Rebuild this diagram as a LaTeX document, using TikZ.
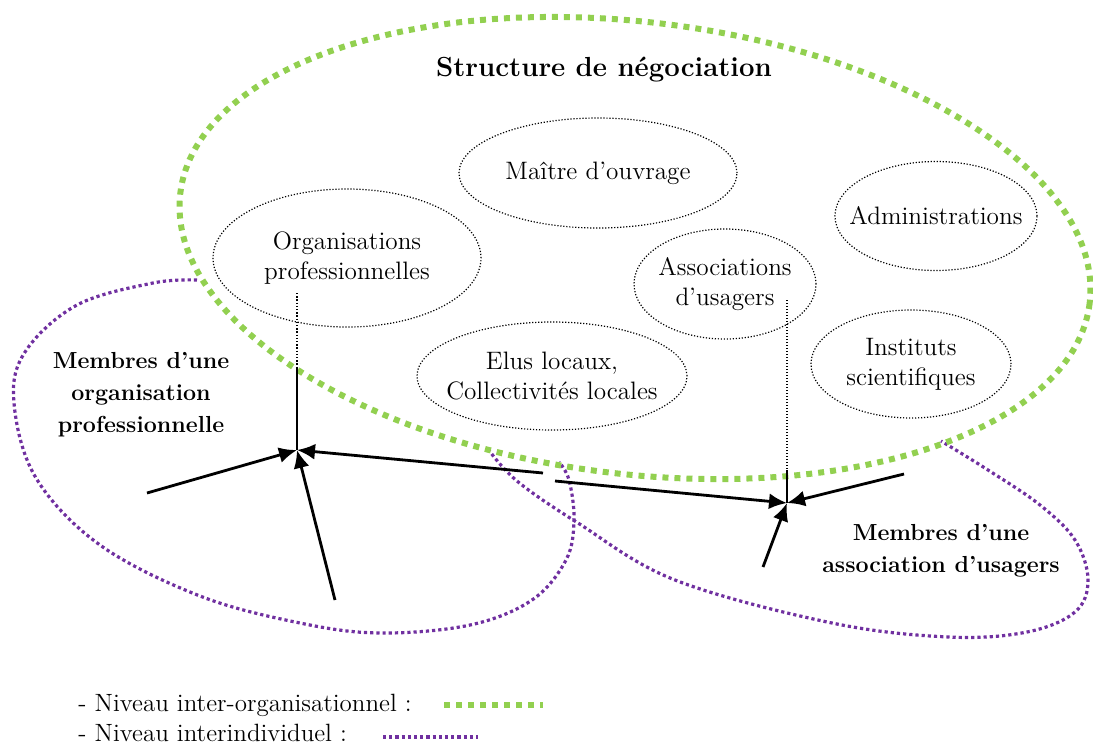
\documentclass[tikz,border=0pt]{standalone}
\usetikzlibrary{arrows.meta,shapes.geometric}
\definecolor{interorg}{HTML}{92D050}
\definecolor{interind}{HTML}{7030A0}

\begin{document}
\begin{tikzpicture}[x=0.5pt, y=-0.5pt,
	inter/.style={interorg, line width=3pt, dash pattern=on 3pt off 3pt},
	indiv/.style={interind, line width=1.6pt, dash pattern=on 1.6pt off 1.5pt},
	acteur/.style={draw, ellipse, line width=0.6pt, dash pattern=on 0.6pt off 0.9pt, inner ysep=0pt, inner xsep=-8pt, align=center, font=\fontsize{12.6}{15}\selectfont},
	membres/.style={align=center, font=\fontsize{11.6}{16}\selectfont\bfseries},
	legende/.style={anchor=west, inner sep=0pt, font=\fontsize{12.5}{14}\selectfont},
	fleche/.style={line width=1.4pt, -{Latex[length=9pt, width=8pt]}}]
	\useasboundingbox (0,0) rectangle (1093,746);

	% niveau interindividuel
	\draw[indiv] plot[smooth, tension=0.6] coordinates {(197,280) (153,283) (77,305) (25,352) (14,403) (36,478) (100,545) (200,596) (300,623) (380,633) (470,625) (532,600) (566,560) (574,520) (569,480) (559,462)};
	\draw[indiv] plot[smooth, tension=0.6] coordinates {(488,449) (517,481) (578,523) (675,580) (832,623) (949,637) (1027,632) (1075,612) (1088,580) (1075,540) (1040,505) (988,470) (941,441)};

	% niveau inter-organisationnel
	\draw[inter, rotate around={-6.9:(635,248)}] (635,248) ellipse [x radius=458, y radius=226];
	\node (titre) at (604,70) {\fontsize{13.8}{18}\selectfont\bfseries Structure de négociation};

	\node (maitre) [acteur, minimum width=139pt, minimum height=55pt] at (598,173) {Maître d’ouvrage};
	\node (orga) [acteur, minimum width=134pt, minimum height=69pt] at (347,258) {Organisations\\professionnelles};
	\node (admin) [acteur, minimum width=101pt, minimum height=54.5pt] at (936,216) {Administrations};
	\node (assoc) [acteur, minimum width=91pt, minimum height=55pt] at (725,284) {Associations\\d’usagers};
	\node (elus) [acteur, minimum width=135pt, minimum height=54pt] at (552,376) {Elus locaux,\\Collectivités locales};
	\node (instituts) [acteur, minimum width=100pt, minimum height=54pt] at (911,364) {Instituts\\scientifiques};

	\node (membresorga) [membres] at (141,395) {Membres d’une\\organisation\\professionnelle};
	\node (membresassoc) [membres] at (941,551) {Membres d’une\\association d’usagers};

	% liens
	\coordinate (j1) at (297,450);
	\coordinate (j2) at (787,503);
	\coordinate (o1) at (297,293);
	\coordinate (o2) at (297,368);
	\coordinate (u1) at (787,300);
	\coordinate (u2) at (787,470);
	\draw[line width=0.7pt, dash pattern=on 0.7pt off 0.9pt] (o1) -- (o2);
	\draw[line width=0.7pt] (o2) -- (j1);
	\draw[line width=0.6pt, dash pattern=on 0.6pt off 0.9pt] (u1) -- (u2);
	\draw[line width=0.7pt] (u2) -- (j2);

	\coordinate (a1) at (147,493);
	\coordinate (a2) at (335,600);
	\coordinate (b1) at (543,473);
	\coordinate (b2) at (555,481);
	\coordinate (c1) at (763,567);
	\coordinate (c2) at (904,474);
	\draw[fleche] (a1) -- (j1);
	\draw[fleche] (a2) -- (j1);
	\draw[fleche] (b1) -- (j1);
	\draw[fleche] (b2) -- (j2);
	\draw[fleche] (c1) -- (j2);
	\draw[fleche] (c2) -- (j2);

	% legende
	\node (leg1) [legende] at (78,705) {- Niveau inter-organisationnel :};
	\node (leg2) [legende] at (78,733) {- Niveau interindividuel :};
	\draw[inter] (444,705) -- (543,705);
	\draw[indiv] (383,737) -- (478,737);
\end{tikzpicture}
\end{document}
